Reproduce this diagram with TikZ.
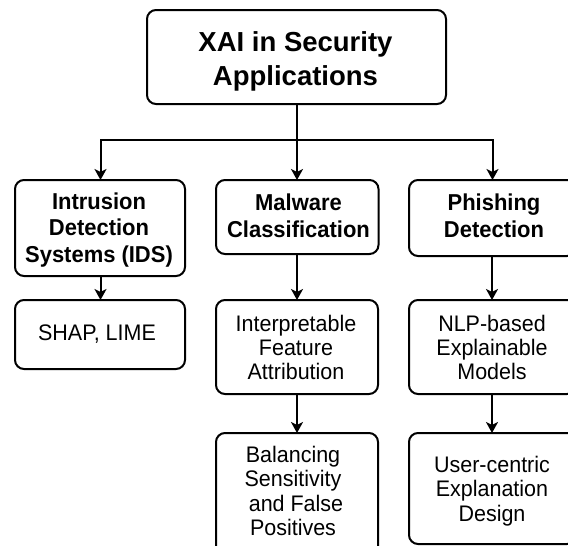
\documentclass[tikz,border=0pt]{standalone}
\usepackage{fontspec}
\setmainfont{Liberation Sans}
\newfontfamily\narrowsans[FakeStretch=0.955]{Liberation Sans}
\usetikzlibrary{arrows.meta}
\begin{document}
\begin{tikzpicture}[x=1pt,y=-1pt,
  box/.style={draw=black,line width=2pt,rounded corners=9pt,fill=white},
  lbl/.style={align=center,inner sep=0pt},
  head/.style={lbl,font=\narrowsans\fontsize{23}{26.5}\selectfont\bfseries},
  body/.style={lbl,font=\narrowsans\fontsize{22.5}{24.2}\selectfont},
  link/.style={line width=2pt,-{Stealth[length=11pt,width=12pt,inset=3pt]}}]
\useasboundingbox (0,0) rectangle (568,546);
\clip (0,0) rectangle (568,546);

% frames
\draw[box] (147,10) rectangle (446,104);
\draw[box] (15,180) rectangle (185,276);
\draw[box] (216,180) rectangle (378.5,254);
\draw[box] (409,180) rectangle (576,256);
\draw[box] (15,300) rectangle (185,369);
\draw[box] (216,300) rectangle (378,394);
\draw[box] (409,300) rectangle (576,394);
\draw[box] (216,433) rectangle (378,556);
\draw[box] (409,433) rectangle (576,544);

% labels
\node[lbl,font=\fontsize{27.5}{34}\selectfont\bfseries] (root) at (295.5,61) {XAI in Security\\Applications};
\node[head] (ids) at (99,230) {Intrusion\\Detection\\Systems (IDS)};
\node[head] (mal) at (298.5,216) {Malware\\Classification};
\node[head] (phi) at (494,216) {Phishing\\Detection};
\node[body] (shap) at (97,334.5) {SHAP, LIME};
\node[body] (interp) at (296,347.5) {Interpretable\\Feature\\Attribution};
\node[body] (nlp) at (492,347.5) {NLP-based\\Explainable\\Models};
\node[body] (bal) at (293,491) {Balancing\\Sensitivity\\\hspace{6pt}and False\\Positives};
\node[body] (user) at (492,491) {User-centric\\Explanation\\Design};

% anchor points on the frames
\coordinate (rootB) at (297,104);
\coordinate (split) at (297,140);
\coordinate (idsT) at (100.5,180);
\coordinate (malT) at (297,180);
\coordinate (phiT) at (492.5,180);
\coordinate (idsB) at (100.5,276);
\coordinate (shapT) at (100.5,300);
\coordinate (malB) at (297,254);
\coordinate (interpT) at (297,300);
\coordinate (phiB) at (492,256);
\coordinate (nlpT) at (492,300);
\coordinate (interpB) at (297,394);
\coordinate (balT) at (297,433);
\coordinate (nlpB) at (492,394);
\coordinate (userT) at (492,433);

% connectors
\draw[line width=2pt] (rootB) -- (split);
\draw[link] (split) -| (idsT);
\draw[link] (split) -- (malT);
\draw[link] (split) -| (phiT);
\draw[link] (idsB) -- (shapT);
\draw[link] (malB) -- (interpT);
\draw[link] (phiB) -- (nlpT);
\draw[link] (interpB) -- (balT);
\draw[link] (nlpB) -- (userT);
\end{tikzpicture}
\end{document}
